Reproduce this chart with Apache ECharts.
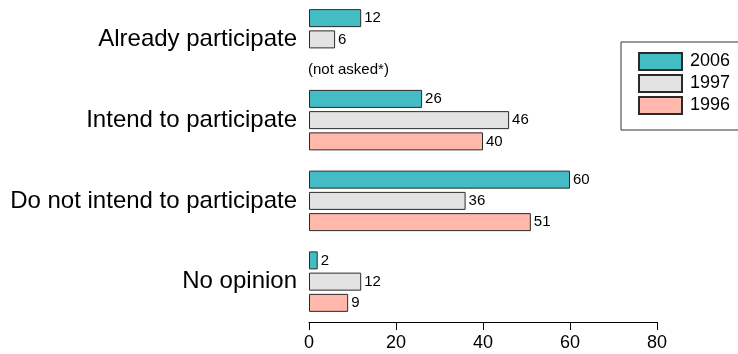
<!DOCTYPE html>
<html>
<head>
<meta charset="utf-8">
<script src="https://cdn.jsdelivr.net/npm/echarts@6/dist/echarts.min.js"></script>
<style>
  html, body { margin: 0; padding: 0; background: #fff; }
  #chart { width: 738px; height: 354px; }
</style>
</head>
<body>
<div id="chart"></div>
<script>
  // data
  var categories = ['Already participate', 'Intend to participate', 'Do not intend to participate', 'No opinion'];
  var years = ['2006', '1997', '1996'];
  var v2006 = [12, 26, 60, 2];
  var v1997 = [6, 46, 36, 12];
  var v1996 = [null, 40, 51, 9];   // not asked in 1996 for the first question
  var notAskedNote = '(not asked*)';
  var xTicks = [0, 20, 40, 60, 80];

  var colors = ['#43bdc3', '#e3e3e3', '#ffb8ab'];
  var font = 'Liberation Sans, Arial, sans-serif';

  // null -> invisible bar that only carries the note
  function withNote(arr) {
    return arr.map(function (v) {
      if (v == null) {
        return {
          value: 0,
          itemStyle: { color: 'transparent', borderWidth: 0 },
          label: { formatter: notAskedNote, offset: [-4, 9] }
        };
      }
      return v;
    });
  }

  var seriesData = [v2006, v1997, withNote(v1996)];

  var myChart = echarts.init(document.getElementById('chart'));

  var option = {
    animation: false,
    textStyle: { fontFamily: font },
    grid: {
      left: 309,
      right: 81,
      top: -1,
      height: 323,
      containLabel: false,
      outerBoundsMode: 'none'
    },
    legend: {
      orient: 'vertical',
      left: 621,
      top: 42,
      padding: [10, 90, 15, 17],
      borderColor: '#333',
      borderWidth: 1,
      icon: 'rect',
      itemWidth: 43,
      itemHeight: 17,
      itemGap: 3,
      data: years,
      textStyle: { fontSize: 18, color: '#000', fontFamily: font, padding: [0, 0, 0, 3] }
    },
    xAxis: {
      type: 'value',
      min: xTicks[0],
      max: xTicks[xTicks.length - 1],
      interval: 20,
      splitLine: { show: false },
      axisLine: { show: true, lineStyle: { color: '#000', width: 1 } },
      axisTick: { show: true, length: 8, lineStyle: { color: '#000' } },
      axisLabel: { fontSize: 18, color: '#000', margin: 12, fontFamily: font }
    },
    yAxis: {
      type: 'category',
      inverse: true,
      data: categories,
      axisLine: { show: false },
      axisTick: { show: false },
      axisLabel: { fontSize: 24, color: '#000', margin: 12, fontFamily: font }
    },
    series: years.map(function (y, i) {
      return {
        name: y,
        type: 'bar',
        data: seriesData[i],
        barWidth: 18,
        barGap: '18%',
        itemStyle: { color: colors[i], borderColor: '#2a2a2a', borderWidth: 1 },
        label: {
          show: true,
          position: 'right',
          distance: 3,
          fontSize: 15,
          color: '#000',
          fontFamily: font
        }
      };
    })
  };
  myChart.setOption(option);
</script>
</body>
</html>
